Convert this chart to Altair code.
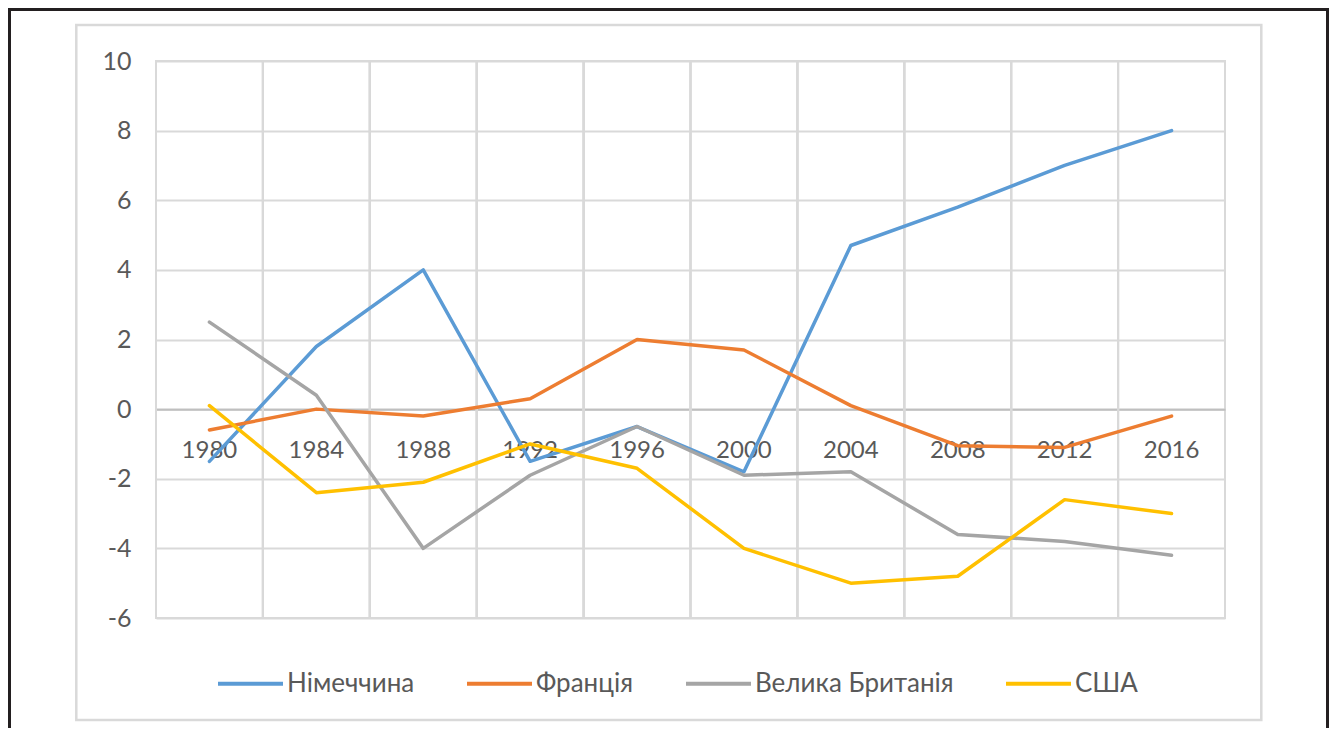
import altair as alt
import pandas as pd

years = ["1980", "1984", "1988", "1992", "1996", "2000", "2004", "2008", "2012", "2016"]
series_names = ["Німеччина", "Франція", "Велика Британія", "США"]
germany = [-1.5, 1.8, 4.0, -1.5, -0.5, -1.8, 4.7, 5.8, 7.0, 8.0]
france = [-0.6, 0.0, -0.2, 0.3, 2.0, 1.7, 0.1, -1.05, -1.1, -0.2]
uk = [2.5, 0.4, -4.0, -1.9, -0.5, -1.9, -1.8, -3.6, -3.8, -4.2]
usa = [0.1, -2.4, -2.1, -1.0, -1.7, -4.0, -5.0, -4.8, -2.6, -3.0]
colors = ["#5B9BD5", "#ED7D31", "#A5A5A5", "#FFC000"]
y_ticks = [-6, -4, -2, 0, 2, 4, 6, 8, 10]

rows = []
for name, vals in zip(series_names, [germany, france, uk, usa]):
    for yr, v in zip(years, vals):
        rows.append({"year": yr, "value": v, "series": name})
df = pd.DataFrame(rows)

W, H = 1069, 557
PAD_L, PAD_T = 148, 53
SVG_W, SVG_H = 1321, 720
zero_off = -(H - H * 10 / 16)

FONT = "Lato"
TXT = "#595959"
GRID = "#d9d9d9"

xscale = alt.Scale(type="band", domain=years, paddingInner=0, paddingOuter=0)
yscale = alt.Scale(domain=[-6, 10], nice=False, zero=False)

one = alt.Data(values=[{"k": 1}])

outer = alt.Chart(one).mark_rect(fill=None, stroke="#231f20", strokeWidth=3).encode(
    x=alt.value(-PAD_L + 1.5), x2=alt.value(SVG_W - PAD_L - 1.5),
    y=alt.value(-PAD_T + 1.5), y2=alt.value(SVG_H - PAD_T + 20),
)
frame = alt.Chart(one).mark_rect(fill=None, stroke=GRID, strokeWidth=2.5).encode(
    x=alt.value(76 - 155.7), x2=alt.value(1261 - 155.7),
    y=alt.value(25 - 61), y2=alt.value(720 - 61),
)

vgrid = alt.Chart(df).mark_rule(color=GRID, strokeWidth=2).encode(
    x=alt.X("year:O", bandPosition=0, scale=xscale,
            axis=alt.Axis(title=None, orient="bottom", offset=zero_off, domainColor="#bfbfbf",
                          domainWidth=2, ticks=False, tickSize=0, grid=False,
                          labelFont=FONT, labelFontSize=24, labelColor=TXT,
                          labelPadding=41, labelBaseline="middle", labelAngle=0)),
)

lines = alt.Chart(df).mark_line(strokeWidth=3.5, strokeJoin="round", strokeCap="round").encode(
    x=alt.X("year:O", bandPosition=0.5, scale=xscale),
    y=alt.Y("value:Q", scale=yscale,
            axis=alt.Axis(title=None, values=y_ticks, grid=True, gridColor=GRID, gridWidth=2,
                          domain=False, ticks=False, tickSize=0, labelFont=FONT,
                          labelFontSize=25, labelColor=TXT, labelPadding=25,
                          labelExpr="'' + datum.value")),
    color=alt.Color("series:N", sort=series_names,
                    scale=alt.Scale(domain=series_names, range=colors),
                    legend=alt.Legend(title=None, orient="none", legendX=60, legendY=588,
                                      direction="horizontal", symbolType="stroke",
                                      symbolSize=4225, symbolStrokeWidth=4,
                                      labelFont=FONT, labelFontSize=26, labelColor=TXT,
                                      labelOffset=2, columnPadding=44, labelLimit=400)),
    order=alt.Order("series:N"),
)

chart = alt.layer(outer, frame, vgrid, lines).properties(
    width=W, height=H,
    padding={"left": PAD_L, "top": PAD_T, "right": SVG_W - PAD_L - W, "bottom": SVG_H - PAD_T - H},
    autosize=alt.AutoSizeParams(type="none"),
    background="white",
).configure_view(stroke=GRID, strokeWidth=2)

chart.save("out.html", embed_options={"renderer": "svg", "actions": False})
